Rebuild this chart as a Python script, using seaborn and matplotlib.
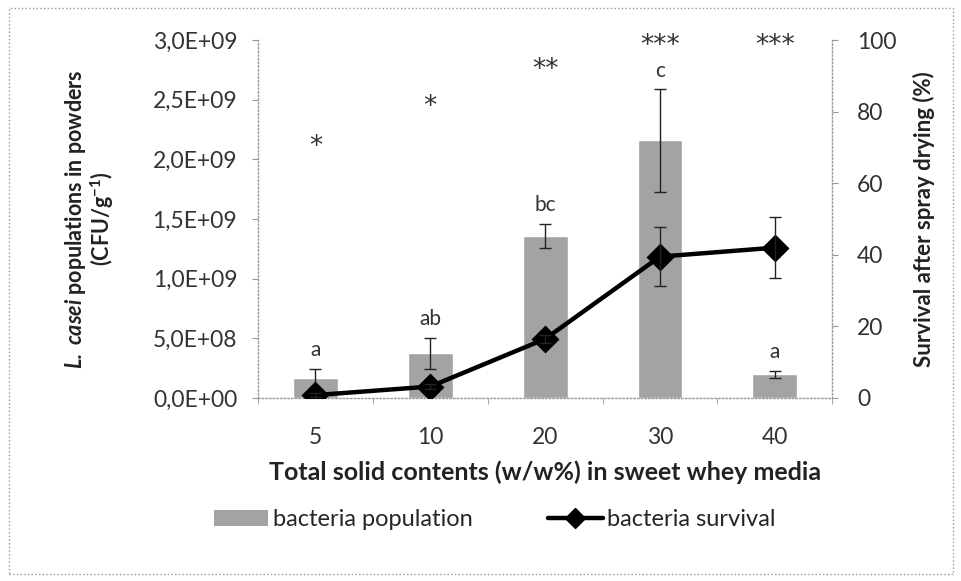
import numpy as np
import seaborn as sns
import matplotlib.pyplot as plt
from matplotlib.ticker import FuncFormatter, FixedLocator
from matplotlib.lines import Line2D
from matplotlib.patches import Patch, Rectangle

solids = ['5', '10', '20', '30', '40']
population = [1.65e8, 3.75e8, 1.36e9, 2.16e9, 2.0e8]
population_err = [0.8e8, 1.3e8, 0.1e9, 0.43e9, 0.3e8]
survival = [0.8, 3.2, 16.5, 39.5, 42.0]
survival_err = [0.5, 0.8, 1.0, 8.3, 8.5]
letters = ['a', 'ab', 'bc', 'c', 'a']
stars = ['*', '*', '**', '***', '***']
star_height = [2.10e9, 2.44e9, 2.75e9, 2.95e9, 2.95e9]

sns.set_style('white')
plt.rcParams['font.family'] = ['Lato', 'DejaVu Sans']
plt.rcParams['mathtext.fontset'] = 'custom'
plt.rcParams['mathtext.rm'] = 'Lato'
plt.rcParams['mathtext.bf'] = 'Lato:bold'
plt.rcParams['mathtext.it'] = 'Lato:italic'
plt.rcParams['mathtext.bfit'] = 'Lato:bold:italic'

fig, ax = plt.subplots(figsize=(9.61, 5.81), dpi=100)
fig.subplots_adjust(left=0.2685, right=0.866, bottom=0.315, top=0.931)
ax2 = ax.twinx()

x = np.arange(len(solids))
sns.barplot(x=solids, y=population, color='#a3a3a3', width=0.39, saturation=1,
            errorbar=None, ax=ax, zorder=1)
ax.errorbar(x, population, yerr=population_err, fmt='none', ecolor='#222222',
            elinewidth=1, capsize=4, capthick=1, zorder=3)

sns.pointplot(x=x, y=survival, color='black', markers='D', linestyles='-',
              errorbar=None, native_scale=True, ax=ax2, zorder=4)
for ln in ax2.lines:
    ln.set_linewidth(3.2)
    ln.set_markersize(12)
ax2.errorbar(x, survival, yerr=survival_err, fmt='none', ecolor='#222222',
             elinewidth=1, capsize=4, capthick=1, zorder=5)

for xi, p, e, lt, st, sh in zip(x, population, population_err, letters, stars, star_height):
    ax.text(xi, p + e + 0.07e9, lt, ha='center', va='bottom', fontsize=15, color='#333333')
    ax.text(xi, sh, st, ha='center', va='center', fontsize=19, color='#333333',
            family='DejaVu Sans')

ax.set_xlim(-0.5, 4.5)
ax.set_ylim(0, 3.0e9)
ax2.set_ylim(0, 100)
ax.set_yticks(np.arange(0, 3.01e9, 0.5e9))
ax.yaxis.set_major_formatter(FuncFormatter(lambda v, p: ('%.1E' % v).replace('.', ',')))
ax2.set_yticks(range(0, 101, 20))
ax2.set_xlim(-0.5, 4.5)

ax.set_xticks(x)
ax.set_xticklabels(solids)
ax.xaxis.set_minor_locator(FixedLocator(np.arange(-0.5, 5, 1)))
ax.tick_params(axis='x', which='major', length=0, pad=21, labelsize=16.5, labelcolor='#333333')
ax.tick_params(axis='x', which='minor', length=4, color='#999999', direction='out', bottom=True)
ax.tick_params(axis='y', length=4, color='#999999', direction='out', left=True,
               labelsize=16.5, labelcolor='#333333', pad=11)
ax2.tick_params(axis='y', length=4, color='#999999', direction='out', right=True,
                labelsize=16.5, labelcolor='#333333', pad=14)

for a in (ax, ax2):
    a.spines['top'].set_visible(False)
    for s in ('left', 'right', 'bottom'):
        a.spines[s].set_color('#999999')
        a.spines[s].set_linestyle(':')
        a.spines[s].set_linewidth(1)
ax.spines['right'].set_visible(False)
ax2.spines['left'].set_visible(False)
ax2.spines['bottom'].set_visible(False)

ax.set_xlabel('Total solid contents (w/w%) in sweet whey media', fontsize=18,
              fontweight='bold', color='#222222', labelpad=9)
ax.set_ylabel(r'$\mathbfit{L.}$ $\mathbfit{casei}$ populations in powders' + '\n'
              + r'(CFU/g$^{\mathbf{-1}}$)',
              fontsize=15.5, fontweight='bold', color='#222222', labelpad=26, linespacing=1.05)
ax2.set_ylabel('Survival after spray drying (%)', fontsize=16, fontweight='bold',
               color='#222222', labelpad=12)

handles = [Patch(facecolor='#a3a3a3', edgecolor='none'),
           Line2D([], [], color='black', lw=3.2, marker='D', markersize=10)]
fig.legend(handles, ['bacteria population', 'bacteria survival'], loc='center',
           bbox_to_anchor=(0.515, 0.105), ncol=2, frameon=False, fontsize=17,
           handlelength=2.3, handletextpad=0.2, columnspacing=3.2)

fig.patches.append(Rectangle((0.009, 0.012), 0.983, 0.975, transform=fig.transFigure,
                             fill=False, edgecolor='#999999', linestyle=':', lw=1))

fig.savefig('out.png', dpi=100)
